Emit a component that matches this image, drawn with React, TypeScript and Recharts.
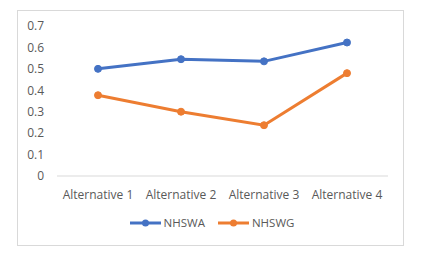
import React from "react";
import { LineChart, Line, XAxis, YAxis, Legend } from "recharts";

const categories = ["Alternative 1", "Alternative 2", "Alternative 3", "Alternative 4"];
const nhswa = [0.5, 0.545, 0.535, 0.623];
const nhswg = [0.377, 0.3, 0.237, 0.48];
const yTicks = [0, 0.1, 0.2, 0.3, 0.4, 0.5, 0.6, 0.7];

const seriesInfo = [
  { key: "NHSWA", color: "#4472C4" },
  { key: "NHSWG", color: "#ED7D31" },
];

const data = categories.map((name, i) => ({ name, NHSWA: nhswa[i], NHSWG: nhswg[i] }));

const font = "'Open Sans', sans-serif";
const textColor = "#595959";

function LegendContent() {
  return (
    <div
      style={{
        display: "flex",
        justifyContent: "center",
        gap: 13,
        paddingLeft: 18,
        fontFamily: font,
        fontSize: 11.5,
        color: textColor,
        lineHeight: "22px",
      }}
    >
      {seriesInfo.map((s) => (
        <div key={s.key} style={{ display: "flex", alignItems: "center", gap: 3 }}>
          <svg width={31} height={10}>
            <line x1={0} y1={5} x2={31} y2={5} stroke={s.color} strokeWidth={3} />
            <circle cx={15.5} cy={5} r={3.5} fill={s.color} />
          </svg>
          <span>{s.key}</span>
        </div>
      ))}
    </div>
  );
}

export default function App() {
  return (
    <div
      style={{
        position: "absolute",
        left: 17,
        top: 10,
        width: 385,
        height: 234,
        border: "1px solid #d9d9d9",
        background: "#fff",
      }}
    >
      <LineChart width={385} height={234} data={data} margin={{ top: 15, right: 15, bottom: 11, left: 0 }}>
        <XAxis
          dataKey="name"
          axisLine={{ stroke: "#d9d9d9" }}
          tickLine={false}
          tick={{ fill: textColor, fontSize: 12, fontFamily: font }}
          tickMargin={8}
          interval={0}
          height={36}
          padding={{ left: 41, right: 41 }}
        />
        <YAxis
          domain={[0, 0.7]}
          ticks={yTicks}
          axisLine={false}
          tickLine={false}
          tickSize={0}
          tickMargin={13}
          width={39}
          tick={{ fill: textColor, fontSize: 12, fontFamily: font }}
        />
        <Legend verticalAlign="bottom" height={22} content={<LegendContent />} />
        {seriesInfo.map((s) => (
          <Line
            key={s.key}
            dataKey={s.key}
            stroke={s.color}
            strokeWidth={3}
            dot={{ r: 3.5, fill: s.color, stroke: s.color, strokeWidth: 1 }}
            isAnimationActive={false}
          />
        ))}
      </LineChart>
    </div>
  );
}
